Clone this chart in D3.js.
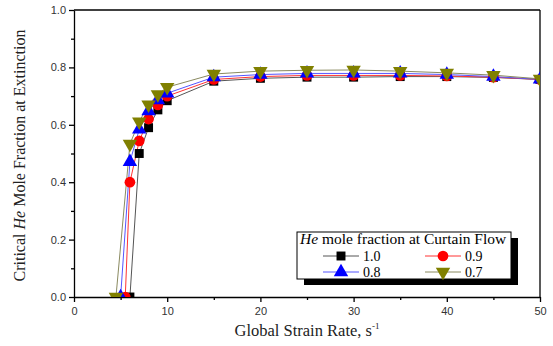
<!DOCTYPE html>
<html>
<head>
<meta charset="utf-8">
<script src="https://cdn.jsdelivr.net/npm/d3@7"></script>
<style>
  body { margin: 0; background: #fff; }
  svg { display: block; }
</style>
</head>
<body>
<div id="chart"></div>
<script>
// data
const xTicks = [0, 10, 20, 30, 40, 50];
const yTicks = [0, 0.2, 0.4, 0.6, 0.8, 1.0];
const seriesNames = ["1.0", "0.9", "0.8", "0.7"];
const seriesColors = ["#000000", "#ff0000", "#0000ff", "#808000"];
const lineColors = ["#555555", "#ff3333", "#5555ff", "#8a8a60"];
const seriesShapes = ["square", "circle", "triUp", "triDown"];

const x10 = [6, 7, 8, 9, 10, 15, 20, 25, 30, 35, 40, 45, 50];
const y10 = [0, 0.50, 0.59, 0.652, 0.684, 0.752, 0.762, 0.766, 0.766, 0.768, 0.768, 0.765, 0.758];
const x09 = [5.5, 6, 7, 8, 9, 10, 15, 20, 25, 30, 35, 40, 45, 50];
const y09 = [0, 0.40, 0.544, 0.62, 0.669, 0.70, 0.758, 0.768, 0.772, 0.772, 0.772, 0.77, 0.766, 0.758];
const x08 = [5, 6, 7, 8, 9, 10, 15, 20, 25, 30, 35, 40, 45, 50];
const y08 = [0, 0.471, 0.584, 0.648, 0.686, 0.71, 0.766, 0.775, 0.779, 0.779, 0.779, 0.775, 0.768, 0.758];
const x07 = [4.5, 6, 7, 8, 9, 10, 15, 20, 25, 30, 35, 40, 45, 50];
const y07 = [0, 0.533, 0.611, 0.67, 0.706, 0.731, 0.777, 0.787, 0.79, 0.791, 0.787, 0.781, 0.773, 0.76];

const seriesX = [x10, x09, x08, x07];
const seriesY = [y10, y09, y08, y07];

const W = 553, H = 346;
const margin = { left: 74, right: 13, top: 10, bottom: 49 };
const iw = W - margin.left - margin.right;
const ih = H - margin.top - margin.bottom;

const svg = d3.select("#chart").append("svg")
    .attr("width", W)
    .attr("height", H);

const xScale = d3.scaleLinear().domain([0, 50]).range([0, iw]);
const yScale = d3.scaleLinear().domain([0, 1]).range([ih, 0]);

svg.append("defs").append("clipPath")
    .attr("id", "clip")
    .append("rect")
    .attr("width", iw)
    .attr("height", ih);

const g = svg.append("g")
    .attr("transform", `translate(${margin.left},${margin.top})`);

// axes
const xAxis = g.append("g")
    .attr("transform", `translate(0,${ih})`)
    .call(d3.axisBottom(xScale).tickValues(xTicks).tickFormat(d3.format("d")).tickSize(5).tickSizeOuter(0));
g.append("g")
    .attr("transform", `translate(0,${ih})`)
    .call(d3.axisBottom(xScale).tickValues(d3.range(5, 50, 10)).tickFormat("").tickSize(3).tickSizeOuter(0))
    .select(".domain").remove();

const yAxis = g.append("g")
    .call(d3.axisLeft(yScale).tickValues(yTicks).tickFormat(d3.format(".1f")).tickSize(5).tickSizeOuter(0));
g.append("g")
    .call(d3.axisLeft(yScale).tickValues([0.1, 0.3, 0.5, 0.7, 0.9]).tickFormat("").tickSize(3).tickSizeOuter(0))
    .select(".domain").remove();

g.selectAll(".tick text")
    .attr("font-family", "Liberation Sans, Arial, sans-serif")
    .attr("font-size", 11)
    .attr("fill", "#333");
xAxis.selectAll(".tick text").attr("dy", "0.9em");
g.selectAll(".domain, .tick line").attr("stroke", "#000").attr("stroke-width", 1.3);

// frame top and right
g.append("line").attr("x1", 0).attr("x2", iw).attr("y1", 0).attr("y2", 0)
    .attr("stroke", "#000").attr("stroke-width", 1.3);
g.append("line").attr("x1", iw).attr("x2", iw).attr("y1", 0).attr("y2", ih)
    .attr("stroke", "#000").attr("stroke-width", 1.3);

// series
const symbolFor = (shape) => {
    if (shape === "square") return d3.symbol().type(d3.symbolSquare).size(80)();
    if (shape === "circle") return d3.symbol().type(d3.symbolCircle).size(90)();
    return d3.symbol().type(d3.symbolTriangle).size(90)();
};

const plot = g.append("g").attr("clip-path", "url(#clip)");

seriesNames.forEach((name, i) => {
    const pts = seriesX[i].map((xv, j) => [xv, seriesY[i][j]]);
    const line = d3.line().x(d => xScale(d[0])).y(d => yScale(d[1]));
    plot.append("path")
        .datum(pts)
        .attr("d", line)
        .attr("fill", "none")
        .attr("stroke", lineColors[i])
        .attr("stroke-width", 1);
});

seriesNames.forEach((name, i) => {
    const pts = seriesX[i].map((xv, j) => [xv, seriesY[i][j]]);
    plot.selectAll(null)
        .data(pts)
        .join("path")
        .attr("d", symbolFor(seriesShapes[i]))
        .attr("transform", d => `translate(${xScale(d[0])},${yScale(d[1])})` + (seriesShapes[i] === "triDown" ? " rotate(180)" : ""))
        .attr("fill", seriesColors[i]);
});

// axis titles
svg.append("text")
    .attr("x", margin.left + iw / 2)
    .attr("y", 336)
    .attr("text-anchor", "middle")
    .attr("font-family", "Liberation Serif, Times New Roman, serif")
    .attr("font-size", 16.5)
    .attr("fill", "#222")
    .html('Global Strain Rate, s<tspan dy="-7" font-size="9">-1</tspan>');

svg.append("text")
    .attr("transform", `translate(25,${margin.top + ih / 2 + 2}) rotate(-90)`)
    .attr("text-anchor", "middle")
    .attr("font-family", "Liberation Serif, Times New Roman, serif")
    .attr("font-size", 16)
    .attr("fill", "#222")
    .html('Critical <tspan font-style="italic">He</tspan> Mole Fraction at Extinction');

// legend
const lg = svg.append("g").attr("transform", "translate(297,232)");
const lw = 214, lh = 47;
lg.append("rect").attr("x", 7).attr("y", 6).attr("width", lw).attr("height", lh).attr("fill", "#000");
lg.append("rect").attr("x", 0).attr("y", 0).attr("width", lw).attr("height", lh)
    .attr("fill", "#fff").attr("stroke", "#000").attr("stroke-width", 1);
lg.append("text")
    .attr("x", 3).attr("y", 12)
    .attr("font-family", "Liberation Serif, Times New Roman, serif")
    .attr("font-size", 15.5)
    .attr("fill", "#000")
    .html('<tspan font-style="italic">He</tspan> mole fraction at Curtain Flow');

const legendPos = [[26, 24], [128, 24], [26, 40], [128, 40]];
seriesNames.forEach((name, i) => {
    const [lx, ly] = legendPos[i];
    lg.append("line")
        .attr("x1", lx).attr("x2", lx + 36)
        .attr("y1", ly).attr("y2", ly)
        .attr("stroke", lineColors[i]).attr("stroke-width", 1);
    lg.append("path")
        .attr("d", symbolFor(seriesShapes[i]))
        .attr("transform", `translate(${lx + 18},${ly})` + (seriesShapes[i] === "triDown" ? " rotate(180)" : ""))
        .attr("fill", seriesColors[i]);
    lg.append("text")
        .attr("x", lx + 40).attr("y", ly + 5)
        .attr("font-family", "Liberation Serif, Times New Roman, serif")
        .attr("font-size", 14)
        .attr("fill", "#000")
        .text(name);
});
</script>
</body>
</html>
